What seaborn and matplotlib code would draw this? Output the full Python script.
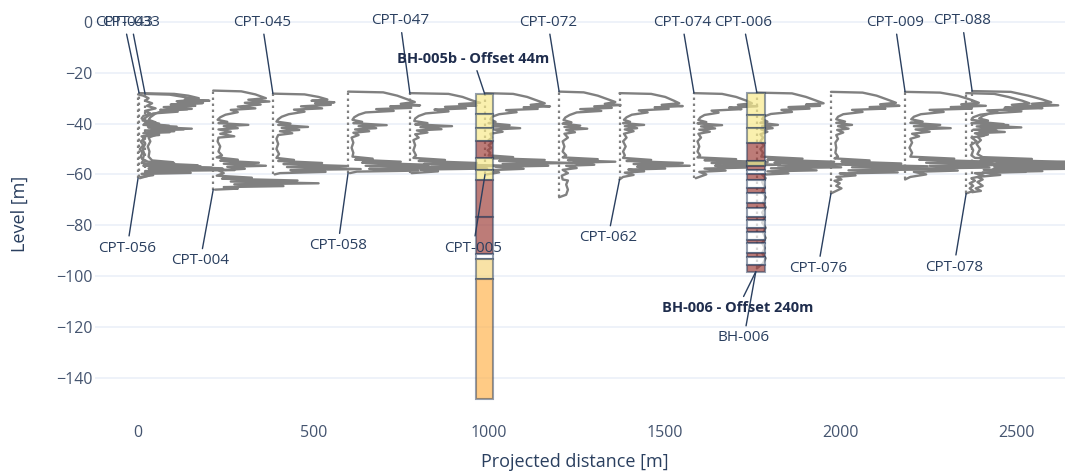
import matplotlib
matplotlib.use("Agg")
import matplotlib.pyplot as plt
import numpy as np
import pandas as pd
import seaborn as sns

# ---------------------------------------------------------------------------
# CPT soundings: (level [m], cone resistance qc [MPa])
# ---------------------------------------------------------------------------
CPT_056 = [(-28.5, 0), (-29.0, 3), (-30.0, 6), (-31.0, 4), (-32.0, 8), (-33.0, 5), (-34.0, 10), (-35.0, 4),
           (-36.0, 7), (-37.0, 3), (-38.0, 2), (-39.0, 5), (-40.0, 12), (-40.5, 3), (-41.2, 22), (-41.6, 6),
           (-42.3, 26), (-42.7, 4), (-43.4, 18), (-43.8, 3), (-44.5, 12), (-45.0, 2), (-46.0, 4), (-47.0, 1.5),
           (-48.5, 3), (-50.0, 1), (-51.5, 2.5), (-53.0, 1.5), (-54.5, 3), (-55.5, 2), (-56.2, 14), (-56.6, 3),
           (-57.3, 42), (-57.7, 6), (-58.3, 55), (-58.7, 4), (-59.4, 30), (-59.8, 2), (-60.5, 6), (-61.5, 1)]
CPT_043 = [(-28.0, 0), (-28.3, 20), (-29.0, 28), (-30.0, 34), (-30.5, 26), (-31.0, 40), (-31.4, 22), (-32.0, 36),
           (-32.5, 18), (-33.0, 32), (-33.5, 14), (-34.2, 30), (-34.6, 12), (-35.3, 22), (-36.0, 8), (-37.0, 5),
           (-38.0, 3), (-38.8, 2), (-39.5, 9), (-40.0, 3), (-40.8, 17), (-41.2, 5), (-42.0, 30), (-42.4, 7),
           (-43.0, 20), (-43.5, 4), (-44.3, 10), (-45.0, 3), (-46.5, 2), (-48.0, 3.5), (-50.0, 2), (-52.0, 3),
           (-54.0, 2), (-55.0, 5), (-55.6, 20), (-56.0, 6), (-56.8, 35), (-57.2, 8), (-58.0, 48), (-58.4, 10),
           (-59.0, 28), (-59.5, 4), (-60.3, 8), (-61.0, 1)]
CPT_033 = [(-28.3, 0), (-28.6, 14), (-29.5, 22), (-30.5, 30), (-31.2, 18), (-31.8, 33), (-32.3, 20), (-33.0, 28),
           (-33.6, 12), (-34.4, 24), (-35.0, 10), (-36.0, 6), (-37.5, 3), (-38.5, 2), (-39.5, 6), (-40.2, 2),
           (-41.0, 12), (-41.5, 4), (-42.5, 16), (-43.0, 3), (-44.0, 8), (-45.5, 2), (-47.0, 3), (-49.0, 1.5),
           (-51.0, 2.5), (-53.0, 2), (-54.5, 4), (-55.2, 16), (-55.6, 4), (-56.4, 30), (-56.8, 5), (-57.6, 44),
           (-58.0, 8), (-58.8, 22), (-59.2, 3), (-60.0, 1)]
CPT_004 = [(-27.0, 0), (-27.3, 16), (-28.5, 24), (-30.0, 30), (-30.6, 20), (-31.3, 32), (-31.8, 18), (-32.5, 27),
           (-33.3, 14), (-34.0, 24), (-34.6, 10), (-35.5, 14), (-36.5, 7), (-37.5, 4), (-38.5, 2.5), (-39.3, 8),
           (-39.8, 3), (-40.5, 20), (-41.0, 6), (-41.8, 14), (-42.3, 3), (-43.2, 10), (-44.0, 4), (-45.0, 12),
           (-45.5, 3), (-47.0, 2.5), (-49.0, 4), (-51.0, 3), (-52.5, 5), (-53.3, 2), (-54.2, 14), (-54.6, 4),
           (-55.4, 26), (-55.8, 6), (-56.6, 30), (-57.0, 8), (-57.8, 18), (-58.4, 3), (-59.5, 6), (-60.5, 2),
           (-61.3, 22), (-61.7, 5), (-62.4, 48), (-62.8, 10), (-63.5, 60), (-63.9, 12), (-64.6, 40), (-65.0, 6),
           (-65.6, 14), (-66.0, 1)]
CPT_045 = [(-28.2, 0), (-28.5, 18), (-29.5, 26), (-30.5, 31), (-31.0, 22), (-31.6, 35), (-32.0, 24), (-32.6, 33),
           (-33.2, 16), (-34.0, 28), (-34.5, 12), (-35.3, 18), (-36.3, 9), (-37.3, 5), (-38.3, 3), (-39.2, 2),
           (-40.0, 10), (-40.5, 3), (-41.3, 20), (-41.7, 5), (-42.5, 15), (-43.0, 4), (-43.8, 11), (-44.5, 3),
           (-46.0, 2), (-48.0, 3), (-50.0, 2), (-52.0, 3.5), (-53.5, 2), (-54.3, 12), (-54.7, 3), (-55.5, 28),
           (-55.9, 6), (-56.7, 42), (-57.1, 8), (-57.9, 50), (-58.3, 10), (-59.0, 30), (-59.5, 4), (-60.0, 1)]
CPT_058 = [(-27.4, 0), (-27.7, 20), (-29.0, 28), (-30.5, 34), (-31.5, 38), (-32.2, 30), (-32.8, 41), (-33.2, 24),
           (-33.8, 36), (-34.3, 16), (-35.0, 26), (-35.6, 10), (-36.5, 6), (-37.5, 3.5), (-38.5, 2.5), (-39.3, 8),
           (-39.8, 3), (-40.6, 22), (-41.0, 6), (-41.8, 16), (-42.3, 4), (-43.0, 12), (-43.6, 3), (-44.5, 6),
           (-45.5, 2), (-47.5, 3), (-49.5, 2), (-51.5, 3), (-53.0, 2.5), (-53.8, 14), (-54.2, 4), (-55.0, 30),
           (-55.4, 8), (-56.2, 46), (-56.6, 10), (-57.4, 64), (-57.8, 12), (-58.5, 40), (-58.9, 5), (-59.5, 1)]
CPT_047 = [(-28.0, 0), (-28.3, 22), (-29.5, 30), (-31.0, 36), (-31.8, 40), (-32.3, 28), (-32.9, 38), (-33.4, 20),
           (-34.0, 32), (-34.5, 14), (-35.2, 22), (-36.0, 9), (-37.0, 5), (-38.0, 3), (-39.0, 2.5), (-39.8, 10),
           (-40.3, 3), (-41.0, 24), (-41.4, 6), (-42.2, 18), (-42.7, 4), (-43.5, 10), (-44.2, 3), (-45.5, 5),
           (-46.5, 2), (-48.5, 3), (-50.5, 2), (-52.5, 3.5), (-53.5, 2), (-54.3, 20), (-54.7, 5), (-55.5, 38),
           (-55.9, 8), (-56.6, 59), (-57.0, 12), (-57.7, 44), (-58.1, 6), (-58.8, 16), (-59.5, 1)]
CPT_005 = [(-28.0, 0), (-28.3, 16), (-29.5, 24), (-31.0, 30), (-32.0, 34), (-32.6, 26), (-33.2, 37), (-33.6, 22),
           (-34.2, 30), (-34.7, 12), (-35.5, 18), (-36.3, 8), (-37.3, 4), (-38.3, 3), (-39.3, 6), (-39.8, 2),
           (-40.6, 14), (-41.0, 4), (-41.8, 20), (-42.3, 5), (-43.2, 10), (-44.0, 3), (-45.5, 4), (-46.5, 2),
           (-47.5, 4), (-48.5, 2), (-49.5, 3.5), (-50.5, 1.5), (-51.5, 3), (-52.5, 2), (-53.2, 16), (-53.6, 4),
           (-54.3, 34), (-54.7, 8), (-55.5, 50), (-55.9, 10), (-56.6, 36), (-57.0, 6), (-57.8, 22), (-58.3, 4),
           (-59.2, 8), (-60.0, 1)]
CPT_072 = [(-27.4, 0), (-27.7, 14), (-29.0, 22), (-30.5, 28), (-31.5, 32), (-32.2, 26), (-32.7, 35), (-33.2, 20),
           (-33.8, 30), (-34.3, 12), (-35.0, 24), (-35.6, 10), (-36.6, 6), (-37.6, 3.5), (-38.6, 2.5), (-39.5, 7),
           (-40.0, 2), (-40.8, 12), (-41.3, 3), (-42.0, 16), (-42.5, 4), (-43.4, 9), (-44.0, 3), (-45.5, 5),
           (-47.0, 2), (-49.0, 3), (-51.0, 2), (-52.5, 4), (-53.3, 2), (-54.0, 22), (-54.4, 5), (-55.0, 32),
           (-55.4, 8), (-56.2, 20), (-56.6, 4), (-57.5, 10), (-58.2, 2), (-59.5, 5), (-60.5, 1.5), (-62.0, 2),
           (-62.4, 5), (-64.0, 4), (-66.0, 5), (-68.0, 4), (-69.0, 0)]
CPT_062 = [(-28.0, 0), (-28.3, 18), (-29.5, 26), (-31.0, 31), (-32.0, 34), (-32.6, 24), (-33.1, 36), (-33.6, 20),
           (-34.2, 28), (-34.8, 11), (-35.6, 16), (-36.5, 7), (-37.5, 4), (-38.5, 2.5), (-39.3, 6), (-39.8, 2),
           (-40.5, 14), (-41.0, 3), (-41.8, 10), (-42.3, 3), (-43.0, 8), (-44.0, 2.5), (-45.5, 4), (-47.0, 2),
           (-49.0, 3.5), (-51.0, 2), (-52.5, 3), (-53.5, 2), (-54.3, 18), (-54.7, 4), (-55.5, 36), (-55.9, 8),
           (-56.6, 40), (-57.0, 10), (-57.7, 26), (-58.1, 5), (-58.8, 14), (-59.3, 3), (-60.2, 8), (-61.0, 2),
           (-62.0, 0)]
CPT_074 = [(-28.0, 0), (-28.3, 16), (-29.5, 24), (-31.0, 30), (-32.0, 33), (-32.6, 25), (-33.2, 36), (-33.7, 20),
           (-34.3, 27), (-34.9, 10), (-35.7, 14), (-36.6, 6), (-37.6, 3.5), (-38.6, 2.5), (-39.4, 7), (-39.9, 2),
           (-40.6, 16), (-41.1, 4), (-41.9, 12), (-42.4, 3), (-43.2, 9), (-44.0, 2.5), (-45.5, 4), (-47.0, 2),
           (-49.0, 3), (-51.0, 2), (-52.5, 3.5), (-53.3, 2), (-54.0, 24), (-54.4, 6), (-55.1, 42), (-55.5, 10),
           (-56.2, 49), (-56.6, 12), (-57.3, 30), (-57.7, 6), (-58.5, 18), (-59.0, 3), (-60.0, 7), (-61.5, 1)]
CPT_006 = [(-27.8, 0), (-28.1, 20), (-29.5, 28), (-31.0, 34), (-32.0, 38), (-32.5, 28), (-33.0, 36), (-33.5, 18),
           (-34.1, 30), (-34.6, 14), (-35.4, 20), (-36.2, 8), (-37.2, 4), (-38.2, 3), (-39.2, 6), (-39.7, 2),
           (-40.5, 12), (-41.0, 3), (-41.8, 9), (-42.3, 2.5), (-43.2, 6), (-44.2, 2), (-45.5, 3.5), (-47.0, 2),
           (-48.5, 4), (-50.0, 2), (-51.5, 3.5), (-53.0, 2.5), (-53.8, 26), (-54.2, 6), (-55.0, 44), (-55.4, 10),
           (-56.1, 57), (-56.5, 12), (-57.2, 48), (-57.6, 8), (-58.4, 34), (-58.8, 6), (-59.6, 18), (-60.1, 3),
           (-61.5, 5), (-63.0, 3), (-65.0, 4.5), (-67.0, 3), (-69.0, 5), (-71.0, 3.5), (-73.0, 5), (-75.0, 3),
           (-77.0, 4.5), (-79.0, 3), (-81.0, 5), (-83.0, 3.5), (-85.0, 5), (-87.0, 3), (-89.0, 4.5), (-91.0, 3),
           (-93.0, 5), (-95.0, 3.5), (-97.0, 0)]
CPT_076 = [(-27.5, 0), (-27.8, 18), (-29.0, 26), (-30.5, 32), (-31.8, 37), (-32.4, 28), (-33.0, 39), (-33.5, 22),
           (-34.1, 31), (-34.6, 12), (-35.4, 18), (-36.3, 7), (-37.3, 4), (-38.3, 3), (-39.2, 8), (-39.7, 3),
           (-40.5, 12), (-41.0, 4), (-42.0, 10), (-42.5, 3.5), (-43.5, 7), (-44.5, 3), (-46.0, 4), (-47.5, 2.5),
           (-49.5, 3), (-51.5, 2.5), (-53.0, 4), (-53.7, 2), (-54.5, 22), (-54.9, 6), (-55.7, 40), (-56.1, 8),
           (-56.8, 55), (-57.2, 12), (-58.0, 64), (-58.4, 10), (-59.2, 38), (-59.6, 5), (-60.4, 14), (-61.0, 3),
           (-62.0, 6), (-62.5, 2), (-63.5, 5), (-64.5, 3), (-65.5, 6), (-66.5, 3), (-67.5, 0)]
CPT_009 = [(-27.5, 0), (-27.8, 20), (-29.0, 30), (-30.5, 37), (-31.8, 42), (-32.4, 32), (-33.0, 46), (-33.5, 26),
           (-34.1, 38), (-34.6, 14), (-35.4, 22), (-36.3, 9), (-37.3, 5), (-38.3, 3.5), (-39.2, 10), (-39.7, 3),
           (-40.5, 20), (-41.0, 5), (-41.8, 26), (-42.3, 6), (-43.2, 14), (-44.0, 4), (-45.0, 8), (-46.0, 3),
           (-47.5, 4), (-49.5, 2.5), (-51.5, 4), (-53.0, 3), (-53.8, 28), (-54.2, 8), (-55.0, 50), (-55.4, 12),
           (-56.2, 66), (-56.6, 14), (-57.3, 48), (-57.7, 8), (-58.5, 30), (-59.0, 5), (-60.0, 12), (-61.0, 3),
           (-62.0, 0)]
CPT_078 = [(-28.0, 0), (-28.3, 16), (-29.5, 24), (-31.0, 32), (-32.0, 36), (-32.6, 26), (-33.2, 40), (-33.7, 22),
           (-34.3, 32), (-34.8, 12), (-35.6, 18), (-36.5, 8), (-37.5, 4), (-38.5, 3), (-39.3, 12), (-39.8, 3),
           (-40.6, 24), (-41.1, 6), (-41.9, 16), (-42.4, 4), (-43.3, 22), (-43.8, 5), (-44.8, 10), (-45.5, 3),
           (-47.0, 6), (-48.5, 2.5), (-50.5, 4), (-52.5, 3), (-53.5, 5), (-54.2, 30), (-54.6, 8), (-55.4, 52),
           (-55.8, 12), (-56.6, 70), (-57.0, 16), (-57.8, 58), (-58.2, 10), (-59.0, 34), (-59.5, 5), (-60.5, 10),
           (-61.5, 3), (-62.5, 5), (-63.5, 2), (-64.5, 4), (-65.5, 2), (-66.5, 4), (-67.5, 0)]
CPT_088 = [(-27.2, 0), (-27.5, 22), (-29.0, 32), (-30.5, 40), (-31.6, 45), (-32.2, 34), (-32.8, 49), (-33.3, 28),
           (-33.9, 40), (-34.4, 18), (-35.2, 28), (-36.0, 10), (-37.0, 6), (-38.0, 4), (-38.8, 9), (-39.3, 3),
           (-40.2, 18), (-40.7, 5), (-41.5, 28), (-42.0, 6), (-42.8, 14), (-43.4, 4), (-44.3, 9), (-45.2, 3),
           (-46.5, 5), (-48.0, 2.5), (-50.0, 4.5), (-52.0, 3), (-53.2, 6), (-53.9, 34), (-54.3, 10), (-55.1, 58),
           (-55.5, 14), (-56.3, 76), (-56.7, 18), (-57.5, 62), (-57.9, 12), (-58.7, 40), (-59.2, 6), (-60.2, 16),
           (-61.0, 3), (-62.0, 6), (-63.0, 3), (-64.5, 6), (-65.5, 2), (-66.5, 5), (-67.0, 0)]

CPT_NAMES = ["CPT-056", "CPT-043", "CPT-033", "CPT-004", "CPT-045", "CPT-058", "CPT-047", "CPT-005",
             "CPT-072", "CPT-062", "CPT-074", "CPT-006", "CPT-076", "CPT-009", "CPT-078", "CPT-088"]
CPT_DATA = [CPT_056, CPT_043, CPT_033, CPT_004, CPT_045, CPT_058, CPT_047, CPT_005,
            CPT_072, CPT_062, CPT_074, CPT_006, CPT_076, CPT_009, CPT_078, CPT_088]
# projected distance along the section [m]
CPT_DIST = [0, 3, 20, 214, 384, 598, 774, 988, 1199, 1371, 1583, 1762, 1973, 2184, 2358, 2375]
QC_SCALE = 5.0  # metres of section per MPa

# ---------------------------------------------------------------------------
# Boreholes: layer top / bottom levels [m] and soil class
# ---------------------------------------------------------------------------
BH005B_DIST = 987
BH005B_TOP = [-28.3, -36.2, -41.6, -46.9, -53.4, -58.3, -62.2, -76.9, -91.5, -93.3, -101.0]
BH005B_BOT = [-36.2, -41.6, -46.9, -53.4, -58.3, -62.2, -76.9, -91.5, -93.3, -101.0, -148.4]
BH005B_SOIL = ["sand", "sand", "sand", "clay", "sand", "sand", "clay", "clay", "none", "silty sand", "gravel"]

BH006_DIST = 1759
BH006_TOP = [-28.1, -36.6, -41.9, -47.8, -54.7, -56.7, -58.3, -60.0, -62.2, -65.5, -67.5, -71.4, -73.4, -76.6,
             -78.0, -81.2, -82.5, -85.8, -87.1, -91.1, -92.4, -95.7]
BH006_BOT = [-36.6, -41.9, -47.8, -54.7, -56.7, -58.3, -60.0, -62.2, -65.5, -67.5, -71.4, -73.4, -76.6, -78.0,
             -81.2, -82.5, -85.8, -87.1, -91.1, -92.4, -95.7, -98.3]
BH006_SOIL = ["sand", "sand", "sand", "clay", "sand", "clay", "none", "clay", "none", "clay", "none", "clay",
              "none", "clay", "none", "clay", "none", "clay", "none", "clay", "none", "clay"]
BH_WIDTH = 50

SOIL_COLORS = {
    "sand": "#f8eb8c",
    "clay": "#a2443f",
    "silty sand": "#f6d780",
    "gravel": "#ffb652",
    "none": "#ffffff",
}

# label positions: (text x, text level) for each CPT, and which end the label points to
TOP_LABELS = {"CPT-043": (-40, 0), "CPT-033": (-20, 0), "CPT-045": (353, 0), "CPT-047": (746, 0.6),
              "CPT-072": (1167, 0), "CPT-074": (1549, 0), "CPT-006": (1723, 0), "CPT-009": (2155, 0),
              "CPT-088": (2346, 0.6)}
BOTTOM_LABELS = {"CPT-056": (-31, -89), "CPT-004": (177, -94), "CPT-058": (569, -88), "CPT-005": (954, -89),
                 "CPT-062": (1338, -85), "CPT-076": (1936, -97), "CPT-078": (2323, -96.5)}

# ---------------------------------------------------------------------------
sns.set_theme(style="white")
plt.rcParams["font.family"] = ["Open Sans", "DejaVu Sans"]
plt.rcParams["axes.unicode_minus"] = True

INK = "#2a3f5f"
TRACE = "#808080"

fig = plt.figure(figsize=(10.65, 4.74), dpi=100)
ax = fig.add_axes([0.0894, 0.123, 0.9108, 0.852])

rows = []
for name, dist, prof in zip(CPT_NAMES, CPT_DIST, CPT_DATA):
    for i, (lvl, qc) in enumerate(prof):
        rows.append({"cpt": name, "order": i, "level": lvl, "x": dist + qc * QC_SCALE})
df = pd.DataFrame(rows)

sns.lineplot(data=df, x="x", y="level", units="cpt", estimator=None, sort=False,
             color=TRACE, linewidth=1.7, ax=ax, zorder=2, legend=False)

# dotted position line for every sounding
for dist, prof in zip(CPT_DIST, CPT_DATA):
    levels = [p[0] for p in prof]
    ax.vlines(dist, min(levels), max(levels), colors=TRACE, linestyles=(0, (1.1, 1.6)),
              linewidth=1.6, zorder=2)

# borehole columns
def draw_borehole(dist, tops, bots, soils):
    heights = np.array(tops) - np.array(bots)
    faces = [matplotlib.colors.to_rgba(SOIL_COLORS[s], 0.7) for s in soils]
    ax.bar([dist] * len(tops), heights, bottom=bots, width=BH_WIDTH, color=faces,
           edgecolor=matplotlib.colors.to_rgba(INK, 0.5), linewidth=1.5, zorder=3)

draw_borehole(BH005B_DIST, BH005B_TOP, BH005B_BOT, BH005B_SOIL)
draw_borehole(BH006_DIST, BH006_TOP, BH006_BOT, BH006_SOIL)

arrow = dict(arrowstyle="-", color=INK, lw=1.0, shrinkA=1, shrinkB=0)
label_font = dict(fontsize=11, color=INK, ha="center", va="center", zorder=5)

for name, dist, prof in zip(CPT_NAMES, CPT_DIST, CPT_DATA):
    levels = [p[0] for p in prof]
    if name in TOP_LABELS:
        ax.annotate(name, xy=(dist, max(levels)), xytext=TOP_LABELS[name], arrowprops=arrow, **label_font)
    else:
        ax.annotate(name, xy=(dist, min(levels)), xytext=BOTTOM_LABELS[name], arrowprops=arrow, **label_font)

ax.annotate("BH-005b - Offset 44m", xy=(BH005B_DIST, BH005B_TOP[0]), xytext=(954, -14.6),
            arrowprops=arrow, fontsize=10.5, fontweight="bold", color="#1f2d4d", ha="center", va="center",
            zorder=5)
ax.annotate("BH-006 - Offset 240m", xy=(BH006_DIST, BH006_BOT[-1]), xytext=(1708, -112.6),
            arrowprops=arrow, fontsize=10.5, fontweight="bold", color="#1f2d4d", ha="center", va="center",
            zorder=5)
ax.annotate("BH-006", xy=(BH006_DIST, BH006_BOT[-1]), xytext=(1725, -124.4),
            arrowprops=arrow, **label_font)

ax.set_xlim(-122, 2640)
ax.set_ylim(-155, 4)
ax.set_xticks([0, 500, 1000, 1500, 2000, 2500])
ax.set_yticks([0, -20, -40, -60, -80, -100, -120, -140])
ax.grid(axis="y", color="#ebf0f8", linewidth=1.2)
ax.grid(axis="x", visible=False)
ax.set_axisbelow(True)
for s in ax.spines.values():
    s.set_visible(False)
ax.tick_params(axis="both", length=0, labelsize=11.5, labelcolor="#44546f")
ax.tick_params(axis="y", pad=2)
ax.tick_params(axis="x", pad=7)

ax.set_xlabel("Projected distance [m]", fontsize=13, color=INK)
ax.set_ylabel("Level [m]", fontsize=13, color=INK)
ax.yaxis.set_label_coords(-0.068, 0.5)
ax.xaxis.set_label_coords(0.494, -0.092)

fig.savefig("out.png", dpi=100)
